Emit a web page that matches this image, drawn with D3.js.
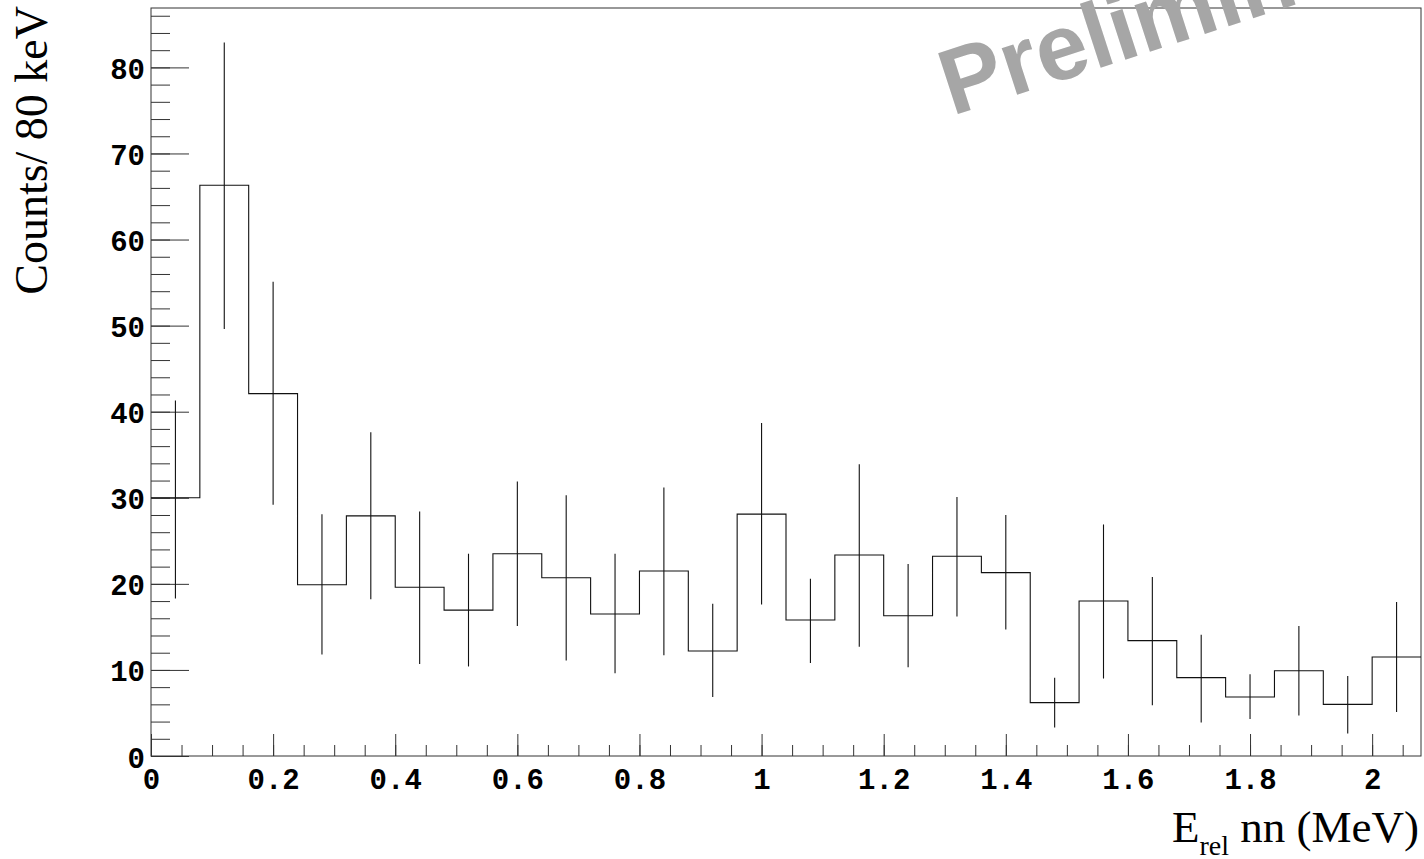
<!DOCTYPE html>
<html>
<head>
<meta charset="utf-8">
<script src="https://cdn.jsdelivr.net/npm/d3@7/dist/d3.min.js"></script>
<style>
  body { margin: 0; background: #fff; }
</style>
</head>
<body>
<div id="chart"></div>
<script>
// bin lower edges (MeV), 80 keV bins
var binLow = [0.00, 0.08, 0.16, 0.24, 0.32, 0.40, 0.48, 0.56, 0.64, 0.72, 0.80, 0.88, 0.96,
  1.04, 1.12, 1.20, 1.28, 1.36, 1.44, 1.52, 1.60, 1.68, 1.76, 1.84, 1.92, 2.00];
var binWidth = 0.08;

var counts = [30, 66.3, 42.1, 19.9, 27.9, 19.6, 16.95, 23.5, 20.7, 16.5, 21.5, 12.2, 28.1,
  15.8, 23.35, 16.3, 23.2, 21.3, 6.2, 18.0, 13.4, 9.1, 6.85, 9.9, 6.0, 11.5];
var errHigh = [41.3, 82.9, 55.1, 28.1, 37.6, 28.4, 23.5, 31.9, 30.3, 23.5, 31.2, 17.7, 38.7,
  20.6, 33.9, 22.3, 30.1, 28.0, 9.1, 26.9, 20.8, 14.1, 9.5, 15.1, 9.3, 17.9];
var errLow = [18.3, 49.6, 29.2, 11.8, 18.2, 10.7, 10.4, 15.1, 11.1, 9.6, 11.7, 6.85, 17.6,
  10.8, 12.7, 10.3, 16.2, 14.7, 3.3, 9.0, 5.9, 3.9, 4.3, 4.7, 2.6, 5.1];

var xMajor = [0, 0.2, 0.4, 0.6, 0.8, 1, 1.2, 1.4, 1.6, 1.8, 2];
var yMajor = [0, 10, 20, 30, 40, 50, 60, 70, 80];

var margin = { top: 8, right: 3, bottom: 103, left: 151 },
  width = 1424 - margin.left - margin.right,
  height = 859 - margin.top - margin.bottom;

var svg0 = d3.select("#chart")
  .append("svg")
  .attr("width", width + margin.left + margin.right)
  .attr("height", height + margin.top + margin.bottom)
  .style("display", "block");

var svg = svg0.append("g")
  .attr("transform", "translate(" + margin.left + "," + margin.top + ")");

var x = d3.scaleLinear().domain([0, 2.08]).range([0, width]);
var y = d3.scaleLinear().domain([0, 86.9]).range([height, 0]);

var lineColor = "#333";

// minor ticks
svg.append("g")
  .attr("transform", "translate(0," + height + ")")
  .call(d3.axisBottom(x).tickValues(d3.range(0, 2.06, 0.05)).tickSize(-11).tickFormat(""))
  .call(g => g.select(".domain").remove())
  .attr("color", lineColor);

svg.append("g")
  .call(d3.axisLeft(y).tickValues(d3.range(0, 86.5, 2)).tickSize(-19).tickFormat(""))
  .call(g => g.select(".domain").remove())
  .attr("color", lineColor);

// major ticks + labels
var xAxis = svg.append("g")
  .attr("transform", "translate(0," + height + ")")
  .call(d3.axisBottom(x).tickValues(xMajor).tickSize(-22)
    .tickFormat(function (d) { return +d.toFixed(1); }))
  .call(g => g.select(".domain").remove())
  .attr("color", lineColor)
  .attr("font-family", "'Liberation Mono', 'Courier New', monospace")
  .attr("font-weight", "bold")
  .attr("font-size", 29);
xAxis.selectAll("text")
  .attr("y", 33)
  .attr("dy", null)
  .attr("fill", "#000");

var yAxis = svg.append("g")
  .call(d3.axisLeft(y).tickValues(yMajor).tickSize(-38))
  .call(g => g.select(".domain").remove())
  .attr("color", lineColor)
  .attr("font-family", "'Liberation Mono', 'Courier New', monospace")
  .attr("font-weight", "bold")
  .attr("font-size", 29);
yAxis.selectAll("text")
  .attr("x", -6)
  .attr("dy", 11)
  .attr("fill", "#000");

// frame
svg.append("rect")
  .attr("x", 0)
  .attr("y", 0)
  .attr("width", width)
  .attr("height", height)
  .style("fill", "none")
  .style("stroke", lineColor)
  .style("stroke-width", 1);

// histogram outline
var steps = binLow.map(function (b, i) { return [b, counts[i]]; });
steps.push([binLow[binLow.length - 1] + binWidth, counts[counts.length - 1]]);

svg.append("path")
  .datum(steps)
  .attr("d", d3.line()
    .x(function (d) { return x(d[0]); })
    .y(function (d) { return y(d[1]); })
    .curve(d3.curveStepAfter))
  .style("fill", "none")
  .style("stroke", "#111")
  .style("stroke-width", 1.1);

// error bars
svg.selectAll("line.err")
  .data(binLow)
  .enter()
  .append("line")
  .attr("class", "err")
  .attr("x1", function (d) { return x(d + binWidth / 2); })
  .attr("x2", function (d) { return x(d + binWidth / 2); })
  .attr("y1", function (d, i) { return y(errLow[i]); })
  .attr("y2", function (d, i) { return y(errHigh[i]); })
  .style("stroke", "#111")
  .style("stroke-width", 1.1);

// axis titles
svg0.append("text")
  .attr("transform", "translate(47,6) rotate(-90)")
  .attr("text-anchor", "end")
  .attr("font-family", "'Liberation Serif', 'Times New Roman', serif")
  .attr("font-size", 46)
  .attr("fill", "#000")
  .text("Counts/ 80 keV");

var xt = svg0.append("text")
  .attr("x", 1419)
  .attr("y", 842)
  .attr("text-anchor", "end")
  .attr("font-family", "'Liberation Serif', 'Times New Roman', serif")
  .attr("font-size", 45)
  .attr("fill", "#000");
xt.append("tspan").text("E");
xt.append("tspan").attr("dy", 13).attr("font-size", 28).text("rel");
xt.append("tspan").attr("dy", -13).text(" nn (MeV)");

// watermark
svg0.append("text")
  .attr("transform", "translate(952,116) rotate(-18)")
  .attr("font-family", "'Liberation Sans', Arial, sans-serif")
  .attr("font-weight", "bold")
  .attr("font-size", 93)
  .attr("fill", "#a6a6a6")
  .text("Preliminary");
</script>
</body>
</html>
